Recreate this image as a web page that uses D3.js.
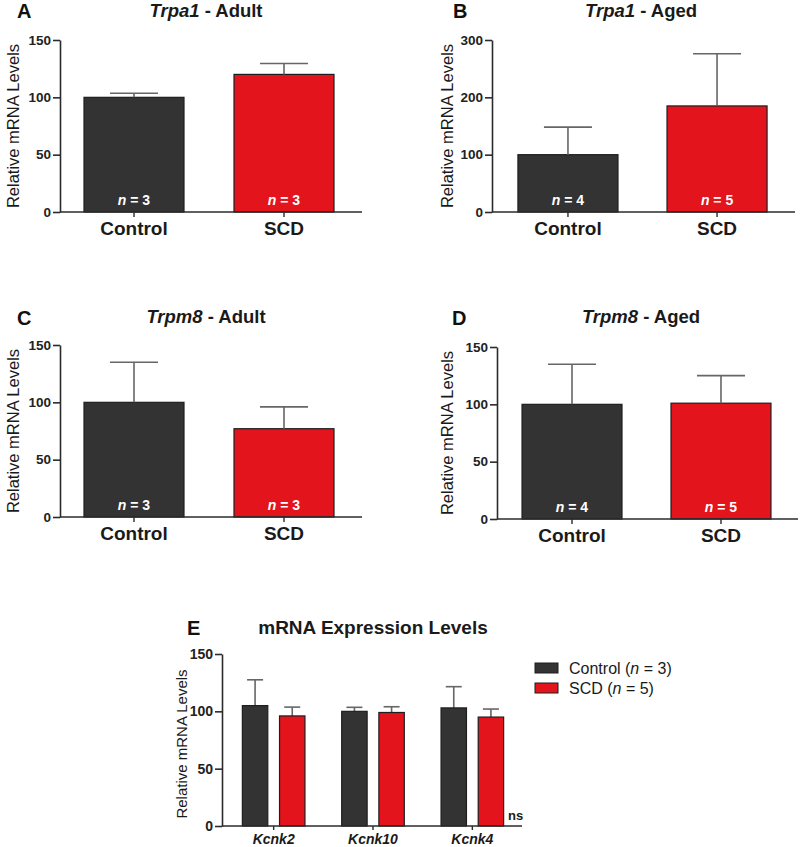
<!DOCTYPE html>
<html>
<head>
<meta charset="utf-8">
<script src="https://cdn.jsdelivr.net/npm/d3@7"></script>
<style>
  body { margin: 0; background: #fff; }
  svg { display: block; font-family: "Liberation Sans", Arial, sans-serif; }
</style>
</head>
<body>
<svg id="chart" width="800" height="847"></svg>
<script>
// ---------- data ----------
const groups = ["Control", "SCD"];
const trpa1Adult = [100, 120];
const trpa1AdultErr = [3.5, 9.5];
const trpa1Aged = [100, 185];
const trpa1AgedErr = [48, 91];
const trpm8Adult = [100, 77];
const trpm8AdultErr = [35, 19];
const trpm8Aged = [100, 101];
const trpm8AgedErr = [35, 24];
const nAdult = [3, 3];
const nAged = [4, 5];
const ticks150 = [0, 50, 100, 150];
const ticks300 = [0, 100, 200, 300];

const kcnkGenes = ["Kcnk2", "Kcnk10", "Kcnk4"];
const kcnkControl = [105, 100, 103];
const kcnkControlErr = [22.5, 3.5, 18.5];
const kcnkSCD = [96, 99, 95];
const kcnkSCDErr = [7.7, 5, 7];
const legendLabels = [["Control (", "n", " = 3)"], ["SCD (", "n", " = 5)"]];

// ---------- style ----------
const DARK = "#333333";
const RED = "#e3141b";
const EDGE = "#1e1e1e";
const ERR = "#666666";
const AXIS = "#2b2b2b";
const colors = [DARK, RED];
const FONT = "Liberation Sans, Arial, sans-serif";

const svg = d3.select("#chart");

function yAxis(g, y, x0, ticks, fs) {
  const ax = g.append("g").attr("transform", `translate(${x0},0)`)
    .call(d3.axisLeft(y).tickValues(ticks).tickSize(7).tickPadding(2).tickSizeOuter(0));
  ax.attr("font-family", FONT);
  ax.select(".domain").attr("stroke", AXIS).attr("stroke-width", 1.6);
  ax.selectAll(".tick line").attr("stroke", AXIS).attr("stroke-width", 1.6);
  ax.selectAll(".tick text").attr("fill", "#222").attr("font-size", fs)
    .attr("font-weight", "bold").attr("font-family", FONT);
}

function panel(cfg) {
  const g = svg.append("g");
  const y = d3.scaleLinear().domain([0, cfg.ymax]).range([cfg.y0, cfg.y1]);
  const x = d3.scaleBand().domain(groups).range([cfg.x0, cfg.x1])
    .paddingInner(cfg.pi).paddingOuter(cfg.po);
  const bw = x.bandwidth();

  g.selectAll("rect.bar").data(groups).join("rect")
    .attr("x", d => x(d)).attr("width", bw)
    .attr("y", (d, i) => y(cfg.vals[i]))
    .attr("height", (d, i) => y(0) - y(cfg.vals[i]))
    .attr("fill", (d, i) => colors[i])
    .attr("stroke", EDGE).attr("stroke-width", 1.2);

  groups.forEach((d, i) => {
    const cx = x(d) + bw / 2;
    const top = y(cfg.vals[i] + cfg.errs[i]);
    g.append("line").attr("x1", cx).attr("x2", cx)
      .attr("y1", y(cfg.vals[i])).attr("y2", top)
      .attr("stroke", ERR).attr("stroke-width", 1.6);
    g.append("line").attr("x1", cx - 24).attr("x2", cx + 24)
      .attr("y1", top).attr("y2", top)
      .attr("stroke", ERR).attr("stroke-width", 1.6);
    const t = g.append("text").attr("x", cx).attr("y", y(0) - 7)
      .attr("text-anchor", "middle").attr("fill", "#fff")
      .attr("font-size", 14).attr("font-weight", "bold");
    t.append("tspan").attr("font-style", "italic").text("n");
    t.append("tspan").text(" = " + cfg.ns[i]);
    g.append("text").attr("x", cx).attr("y", y(0) + 23)
      .attr("text-anchor", "middle").attr("fill", "#1a1a1a")
      .attr("font-size", 19).attr("font-weight", "bold").text(d);
    g.append("line").attr("x1", cx).attr("x2", cx)
      .attr("y1", y(0)).attr("y2", y(0) + 5)
      .attr("stroke", AXIS).attr("stroke-width", 1.4);
  });

  g.append("line").attr("x1", cfg.x0).attr("x2", cfg.xEnd)
    .attr("y1", y(0)).attr("y2", y(0))
    .attr("stroke", AXIS).attr("stroke-width", 1.6);

  yAxis(g, y, cfg.x0, cfg.ticks, 13.5);

  g.append("text")
    .attr("transform", `translate(${cfg.labX},${(cfg.y0 + cfg.y1) / 2}) rotate(-90)`)
    .attr("text-anchor", "middle").attr("fill", "#1a1a1a")
    .attr("font-size", 16.5).text("Relative mRNA Levels");

  const tt = g.append("text").attr("x", cfg.titleX).attr("y", cfg.titleY)
    .attr("text-anchor", "middle").attr("fill", "#1a1a1a")
    .attr("font-size", 18.5).attr("font-weight", "bold");
  tt.append("tspan").attr("font-style", "italic").text(cfg.gene);
  tt.append("tspan").text(" - " + cfg.age);

  g.append("text").attr("x", cfg.letterX).attr("y", cfg.letterY)
    .attr("fill", "#111").attr("font-size", 20).attr("font-weight", "bold")
    .text(cfg.letter);
}

panel({ letter: "A", letterX: 17, letterY: 18, gene: "Trpa1", age: "Adult", titleX: 206, titleY: 17,
  vals: trpa1Adult, errs: trpa1AdultErr, ns: nAdult, ymax: 150, ticks: ticks150,
  x0: 60, x1: 358, xEnd: 362, pi: 1/3, po: 0.16, y0: 212, y1: 40, labX: 19 });
panel({ letter: "B", letterX: 453, letterY: 18, gene: "Trpa1", age: "Aged", titleX: 641, titleY: 17,
  vals: trpa1Aged, errs: trpa1AgedErr, ns: nAged, ymax: 300, ticks: ticks300,
  x0: 492, x1: 793, xEnd: 795, pi: 0.329, po: 0.174, y0: 212, y1: 40, labX: 453 });
panel({ letter: "C", letterX: 17, letterY: 325, gene: "Trpm8", age: "Adult", titleX: 206, titleY: 323,
  vals: trpm8Adult, errs: trpm8AdultErr, ns: nAdult, ymax: 150, ticks: ticks150,
  x0: 60, x1: 358, xEnd: 362, pi: 1/3, po: 0.16, y0: 517, y1: 345, labX: 19 });
panel({ letter: "D", letterX: 452, letterY: 325, gene: "Trpm8", age: "Aged", titleX: 641, titleY: 323,
  vals: trpm8Aged, errs: trpm8AgedErr, ns: nAged, ymax: 150, ticks: ticks150,
  x0: 497, x1: 796, xEnd: 798, pi: 0.329, po: 0.168, y0: 519, y1: 347, labX: 453 });

// ---------- panel E ----------
(function () {
  const g = svg.append("g");
  const y = d3.scaleLinear().domain([0, 150]).range([826, 654]);
  const x = d3.scaleBand().domain(kcnkGenes).range([222, 524]).paddingInner(0.37).paddingOuter(0.205);
  const xs = d3.scaleBand().domain(groups).range([0, x.bandwidth()]).paddingInner(0.316).paddingOuter(0);
  const series = [
    { vals: kcnkControl, errs: kcnkControlErr },
    { vals: kcnkSCD, errs: kcnkSCDErr }
  ];
  const bw = xs.bandwidth();
  kcnkGenes.forEach((gene, gi) => {
    groups.forEach((grp, si) => {
      const v = series[si].vals[gi];
      const e = series[si].errs[gi];
      const bx = x(gene) + xs(grp);
      const cx = bx + bw / 2;
      g.append("line").attr("x1", cx).attr("x2", cx)
        .attr("y1", y(v)).attr("y2", y(v + e))
        .attr("stroke", ERR).attr("stroke-width", 1.6);
      g.append("line").attr("x1", cx - 8).attr("x2", cx + 8)
        .attr("y1", y(v + e)).attr("y2", y(v + e))
        .attr("stroke", ERR).attr("stroke-width", 1.6);
      g.append("rect").attr("x", bx).attr("width", bw)
        .attr("y", y(v)).attr("height", y(0) - y(v))
        .attr("fill", colors[si]).attr("stroke", EDGE).attr("stroke-width", 1.2);
    });
    const gc = x(gene) + x.bandwidth() / 2;
    g.append("line").attr("x1", gc).attr("x2", gc).attr("y1", y(0)).attr("y2", y(0) + 4)
      .attr("stroke", AXIS).attr("stroke-width", 1.4);
    g.append("text").attr("x", gc).attr("y", 844).attr("text-anchor", "middle")
      .attr("font-size", 14).attr("font-weight", "bold").attr("font-style", "italic")
      .attr("fill", "#1a1a1a").text(gene);
  });
  g.append("line").attr("x1", 222).attr("x2", 522).attr("y1", y(0)).attr("y2", y(0))
    .attr("stroke", AXIS).attr("stroke-width", 1.6);
  yAxis(g, y, 222, ticks150, 14);

  g.append("text").attr("x", 508).attr("y", 820).attr("font-size", 13)
    .attr("font-weight", "bold").attr("fill", "#1a1a1a").text("ns");

  g.append("text")
    .attr("transform", `translate(187,${(826 + 654) / 2 + 4}) rotate(-90)`)
    .attr("text-anchor", "middle").attr("fill", "#1a1a1a")
    .attr("font-size", 15).text("Relative mRNA Levels");

  g.append("text").attr("x", 373).attr("y", 634).attr("text-anchor", "middle")
    .attr("font-size", 19).attr("font-weight", "bold").attr("fill", "#1a1a1a")
    .text("mRNA Expression Levels");
  g.append("text").attr("x", 187).attr("y", 635).attr("font-size", 20)
    .attr("font-weight", "bold").attr("fill", "#111").text("E");

  legendLabels.forEach((parts, i) => {
    const ly = 663 + i * 20;
    g.append("rect").attr("x", 535).attr("y", ly).attr("width", 23).attr("height", 10)
      .attr("fill", colors[i]).attr("stroke", EDGE).attr("stroke-width", 1);
    const t = g.append("text").attr("x", 569).attr("y", ly + 10.5).attr("font-size", 16).attr("fill", "#1a1a1a");
    t.append("tspan").text(parts[0]);
    t.append("tspan").attr("font-style", "italic").text(parts[1]);
    t.append("tspan").text(parts[2]);
  });
})();
</script>
</body>
</html>
